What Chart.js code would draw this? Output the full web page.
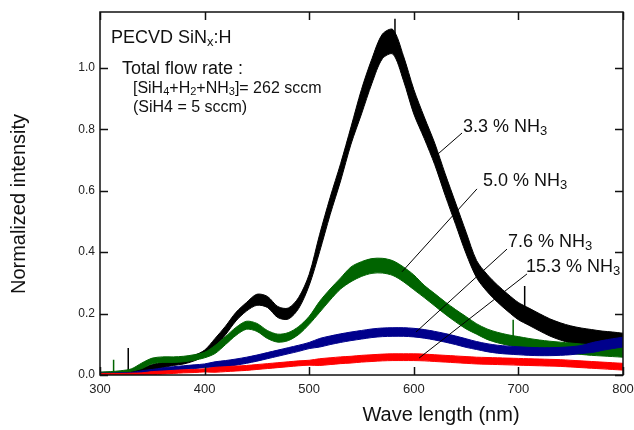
<!DOCTYPE html>
<html><head><meta charset="utf-8">
<script src="https://cdn.jsdelivr.net/npm/chart.js@4.4.1/dist/chart.umd.min.js"></script>
<style>html,body{margin:0;padding:0;background:#fff;}</style>
</head><body>
<canvas id="c" width="634" height="430"></canvas>
<script>
// ---------- data ----------
const wavelengths = [300,310,320,330,340,350,360,370,380,390,
  400,410,420,430,440,450,460,470,480,490,
  500,510,520,530,540,550,560,570,580,590,
  600,610,620,630,640,650,660,670,680,690,
  700,710,720,730,740,750,760,770,780,790,800];

// 3.3 % NH3 (black)
const black = [0.005,0.005,0.006,0.010,0.016,0.025,0.033,0.040,0.045,0.055,
  0.072,0.105,0.145,0.190,0.222,0.245,0.238,0.205,0.200,0.235,
  0.310,0.430,0.550,0.660,0.780,0.890,0.990,1.070,1.085,1.000,
  0.890,0.805,0.720,0.620,0.525,0.430,0.345,0.300,0.265,0.235,
  0.208,0.190,0.172,0.155,0.142,0.132,0.125,0.120,0.115,0.112,0.108];
const blackSpread = [0.004,0.004,0.004,0.004,0.006,0.009,0.009,0.009,0.009,0.009,
  0.009,0.014,0.014,0.014,0.014,0.018,0.018,0.018,0.018,0.018,
  0.018,0.028,0.028,0.028,0.028,0.040,0.040,0.040,0.040,0.040,
  0.040,0.035,0.035,0.035,0.035,0.035,0.028,0.028,0.028,0.028,
  0.028,0.028,0.028,0.028,0.028,0.028,0.028,0.028,0.028,0.028,0.028];

// 5.0 % NH3 (green)
const green = [0.005,0.007,0.010,0.016,0.030,0.046,0.050,0.050,0.052,0.057,
  0.065,0.083,0.112,0.142,0.162,0.155,0.132,0.120,0.125,0.145,
  0.178,0.222,0.262,0.298,0.328,0.345,0.355,0.356,0.348,0.328,
  0.302,0.272,0.245,0.218,0.193,0.170,0.150,0.133,0.122,0.114,
  0.108,0.102,0.097,0.093,0.090,0.087,0.084,0.081,0.079,0.077,0.075];
const greenSpread = [0.004,0.004,0.004,0.004,0.009,0.009,0.009,0.009,0.009,0.009,
  0.009,0.013,0.013,0.013,0.013,0.013,0.013,0.013,0.013,0.013,
  0.013,0.018,0.018,0.018,0.024,0.024,0.024,0.024,0.024,0.024,
  0.024,0.020,0.020,0.020,0.020,0.020,0.017,0.017,0.017,0.017,
  0.017,0.017,0.017,0.017,0.017,0.017,0.017,0.017,0.017,0.017,0.017];

// 7.6 % NH3 (blue)
const blue = [0.003,0.003,0.004,0.005,0.008,0.012,0.017,0.021,0.024,0.027,
  0.030,0.033,0.037,0.042,0.048,0.055,0.063,0.071,0.079,0.087,
  0.096,0.105,0.113,0.120,0.126,0.131,0.136,0.139,0.140,0.140,
  0.138,0.134,0.128,0.121,0.113,0.104,0.096,0.089,0.084,0.081,
  0.079,0.077,0.076,0.076,0.077,0.079,0.083,0.089,0.096,0.102,0.107];
const blueSpread = [0.003,0.003,0.003,0.003,0.006,0.006,0.006,0.006,0.006,0.006,
  0.006,0.010,0.010,0.010,0.010,0.010,0.010,0.010,0.010,0.010,
  0.010,0.014,0.014,0.014,0.014,0.014,0.014,0.014,0.014,0.014,
  0.014,0.014,0.014,0.014,0.014,0.014,0.013,0.013,0.013,0.013,
  0.013,0.013,0.013,0.013,0.013,0.013,0.013,0.016,0.016,0.016,0.016];

// 15.3 % NH3 (red)
const red = [0.002,0.002,0.002,0.003,0.004,0.006,0.008,0.010,0.012,0.013,
  0.015,0.017,0.019,0.021,0.023,0.026,0.029,0.032,0.035,0.038,
  0.040,0.042,0.045,0.048,0.050,0.053,0.055,0.057,0.058,0.058,
  0.058,0.057,0.055,0.053,0.051,0.049,0.047,0.046,0.045,0.044,
  0.043,0.042,0.041,0.040,0.039,0.037,0.035,0.033,0.031,0.029,0.027];
const redSpread = [0.003,0.003,0.003,0.003,0.003,0.005,0.005,0.005,0.005,0.005,
  0.005,0.008,0.008,0.008,0.008,0.008,0.008,0.008,0.008,0.008,
  0.008,0.011,0.011,0.011,0.011,0.011,0.011,0.011,0.011,0.011,
  0.011,0.011,0.011,0.011,0.011,0.011,0.011,0.011,0.011,0.011,
  0.011,0.011,0.011,0.011,0.011,0.011,0.011,0.011,0.011,0.011,0.011];

// isolated spikes: [wavelength, base, top]
const blackSpikes = [[327, 0.008, 0.088], [582, 1.10, 1.16], [706, 0.20, 0.29]];
const greenSpikes = [[313, 0.007, 0.050], [695, 0.11, 0.18]];

const xTicks = [300, 400, 500, 600, 700, 800];
const yTicks = [0.0, 0.2, 0.4, 0.6, 0.8, 1.0];

// ---------- drawing ----------
const FONT = '"Liberation Sans", Arial, Helvetica, sans-serif';
const C_BLACK = '#000000', C_GREEN = '#006400', C_BLUE = '#00008c', C_RED = '#ff0000';

function band(center, spread, color, ord) {
  const lo = wavelengths.map((w, i) => ({x: w, y: center[i] - spread[i]}));
  const hi = wavelengths.map((w, i) => ({x: w, y: center[i] + spread[i]}));
  return [
    {data: lo, borderColor: color, borderWidth: 1, pointRadius: 0, fill: false, tension: 0.3, order: ord},
    {data: hi, borderColor: color, backgroundColor: color, borderWidth: 1, pointRadius: 0, fill: '-1', tension: 0.3, order: ord}
  ];
}
function spikes(list, color, ord) {
  const d = [];
  list.forEach(([w, b, t]) => { d.push({x: w, y: b}, {x: w, y: t}, {x: w, y: null}); });
  return {data: d, borderColor: color, borderWidth: 1.5, pointRadius: 0, fill: false, spanGaps: false, order: ord};
}

const notes = [
  {x: 310.5, y: 1.081, size: 18, parts: [['PECVD SiN', 0], ['x', 1], [':H', 0]]},
  {x: 321.0, y: 0.980, size: 18, parts: [['Total flow rate :', 0]]},
  {x: 331.5, y: 0.919, size: 16, parts: [['[SiH', 0], ['4', 1], ['+H', 0], ['2', 1], ['+NH', 0], ['3', 1], [']= 262 sccm', 0]]},
  {x: 331.5, y: 0.857, size: 16, parts: [['(SiH4 = 5 sccm)', 0]]},
  {x: 647.0, y: 0.792, size: 18, parts: [['3.3 % NH', 0], ['3', 1]]},
  {x: 666.2, y: 0.616, size: 18, parts: [['5.0 % NH', 0], ['3', 1]]},
  {x: 690.1, y: 0.417, size: 18, parts: [['7.6 % NH', 0], ['3', 1]]},
  {x: 707.3, y: 0.336, size: 18, parts: [['15.3 % NH', 0], ['3', 1]]}
];
const leaders = [
  [646.1, 0.788, 622.2, 0.717],
  [660.4, 0.606, 588.7, 0.336],
  [689.1, 0.410, 602.1, 0.140],
  [708.2, 0.329, 605.0, 0.055]
];

function drawRich(ctx, x, y, parts, size) {
  let cx = x;
  for (const [t, sub] of parts) {
    const s = sub ? Math.round(size * 0.7) : size;
    ctx.font = s + 'px ' + FONT;
    ctx.fillText(t, cx, y + (sub ? size * 0.16 : 0));
    cx += ctx.measureText(t).width;
  }
}

const decor = {
  id: 'decor',
  afterDraw(chart) {
    const ctx = chart.ctx, a = chart.chartArea;
    const xs = chart.scales.x, ys = chart.scales.y;
    ctx.save();
    // frame
    ctx.strokeStyle = '#111';
    ctx.lineWidth = 1.5;
    ctx.strokeRect(a.left, a.top, a.right - a.left, a.bottom - a.top);
    // inward ticks on all four sides
    const TL = 8;
    ctx.beginPath();
    xTicks.forEach(v => {
      const px = Math.round(xs.getPixelForValue(v)) + 0.5;
      ctx.moveTo(px, a.bottom); ctx.lineTo(px, a.bottom - TL);
      ctx.moveTo(px, a.top); ctx.lineTo(px, a.top + TL);
    });
    yTicks.forEach(v => {
      const py = Math.round(ys.getPixelForValue(v)) + 0.5;
      ctx.moveTo(a.left, py); ctx.lineTo(a.left + TL, py);
      ctx.moveTo(a.right, py); ctx.lineTo(a.right - TL, py);
    });
    ctx.stroke();
    // leader lines
    ctx.strokeStyle = '#000';
    ctx.lineWidth = 1;
    ctx.beginPath();
    leaders.forEach(([x1, y1, x2, y2]) => {
      ctx.moveTo(xs.getPixelForValue(x1), ys.getPixelForValue(y1));
      ctx.lineTo(xs.getPixelForValue(x2), ys.getPixelForValue(y2));
    });
    ctx.stroke();
    // annotations
    ctx.fillStyle = '#111';
    ctx.textBaseline = 'alphabetic';
    ctx.textAlign = 'left';
    notes.forEach(n => drawRich(ctx, xs.getPixelForValue(n.x), ys.getPixelForValue(n.y), n.parts, n.size));
    // axis titles
    ctx.font = '20px ' + FONT;
    ctx.textAlign = 'center';
    ctx.fillText('Wave length (nm)', 441, 421);
    ctx.save();
    ctx.translate(25, 204);
    ctx.rotate(-Math.PI / 2);
    ctx.fillText('Normalized intensity', 0, 0);
    ctx.restore();
    ctx.restore();
  }
};

const datasets = [
  ...band(black, blackSpread, C_BLACK, 4),
  spikes(blackSpikes, C_BLACK, 4),
  ...band(green, greenSpread, C_GREEN, 3),
  spikes(greenSpikes, C_GREEN, 3),
  ...band(blue, blueSpread, C_BLUE, 2),
  ...band(red, redSpread, C_RED, 1)
];

new Chart(document.getElementById('c'), {
  type: 'line',
  data: {datasets},
  plugins: [decor],
  options: {
    responsive: false,
    animation: false,
    events: [],
    layout: {padding: {top: 12, right: 11, left: 0, bottom: 0}},
    plugins: {legend: {display: false}, tooltip: {enabled: false}},
    scales: {
      x: {
        type: 'linear', min: 300, max: 800,
        grid: {display: false, drawTicks: false},
        border: {display: false},
        afterBuildTicks(s) { s.ticks = xTicks.map(v => ({value: v})); },
        afterFit(s) { s.height = 55; s.paddingLeft = 0; s.paddingRight = 0; },
        ticks: {padding: 7, color: '#222', font: {family: FONT, size: 13}, maxRotation: 0, callback: v => String(v)}
      },
      y: {
        type: 'linear', min: 0, max: 1.182,
        grid: {display: false, drawTicks: false},
        border: {display: false},
        afterBuildTicks(s) { s.ticks = yTicks.map(v => ({value: v})); },
        afterFit(s) { s.width = 100; s.paddingTop = 0; s.paddingBottom = 0; },
        ticks: {padding: 5, color: '#222', font: {family: FONT, size: 12}, callback: v => v.toFixed(1)}
      }
    }
  }
});
</script>
</body></html>
